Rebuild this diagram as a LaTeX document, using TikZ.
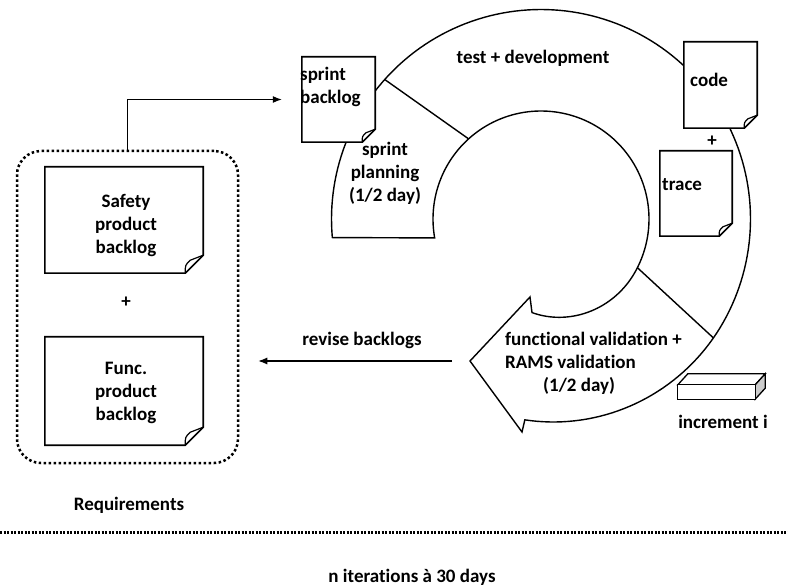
\documentclass[tikz,border=0pt]{standalone}
\usepackage{fontspec}
\setmainfont{Carlito}[Ligatures={NoCommon}]
\usetikzlibrary{arrows.meta,calc}
\newcommand{\drawdoc}[2]{%
  \draw[docline] (#1.north west) -- (#1.north east) -- ([yshift=#2pt]#1.south east) -- ([xshift=-#2pt]#1.south east) -- (#1.south west) -- cycle;
  \draw[foldline] ([xshift=-#2pt]#1.south east) .. controls ([xshift=-#2pt, yshift=0.45*#2pt]#1.south east) .. ([xshift=-0.72*#2pt, yshift=0.72*#2pt]#1.south east) -- ([yshift=#2pt]#1.south east);
}
\begin{document}
\begin{tikzpicture}[x=1pt,y=-1pt,
  declare function={ri(\a)=108-14*(max(0,\a-390)/65.5)^2; ro(\a)=209.5-8*(max(0,\a-390)/64.6)^2;},
  txt/.style={font=\fontsize{19}{23}\selectfont\bfseries, inner sep=0pt, align=center},
  ringline/.style={line width=1.4pt, line join=miter},
  docline/.style={line width=1.6pt, fill=white, line join=miter},
  foldline/.style={line width=1.2pt, line join=round},
  docnode/.style={inner sep=0pt},
  arr/.style={line width=1.2pt, -{Latex[length=9pt,width=7pt]}},
  reqstyle/.style={draw, line width=2.5pt, dash pattern=on 2.5pt off 2.5pt, rounded corners=24pt, inner sep=0pt, minimum width=221pt, minimum height=312pt},
  boxline/.style={line width=1.3pt, line join=miter},
]
\useasboundingbox (0,0) rectangle (788,588);

% ---- circular arrow ----
\coordinate (rtip) at (470,361);
\coordinate (ibarb) at (530,297);
\coordinate (obarb) at (522,432);
\draw[ringline] plot[domain=169.9:455.5, samples=160, variable=\t] ({541+ri(\t)*cos(\t)},{219+ri(\t)*sin(\t)})
  -- (ibarb) -- (rtip) -- (obarb)
  -- plot[domain=0:1, samples=160, variable=\s] ({541+ro(454.6-279.8*\s)*cos(454.6-279.8*\s)},{219+ro(454.6-279.8*\s)*sin(454.6-279.8*\s)})
  -- cycle;
\coordinate (d1o) at ({541+209.5*cos(221.75)},{219+209.5*sin(221.75)});
\coordinate (d1i) at ({541+108*cos(227.9)},{219+108*sin(227.9)});
\coordinate (d2i) at ({541+108*cos(26.8)},{219+108*sin(26.8)});
\coordinate (d2o) at ({541+209.5*cos(34.6)},{219+209.5*sin(34.6)});
\draw[ringline] (d1o) -- (d1i);
\draw[ringline] (d2i) -- (d2o);

% ---- documents ----
\node[docnode, minimum width=73pt, minimum height=85pt] (sprint) at (338.5,99.5) {};
\drawdoc{sprint}{13}
\node[docnode, minimum width=73pt, minimum height=86pt] (code) at (720.5,85) {};
\drawdoc{code}{13}
\node[docnode, minimum width=72pt, minimum height=85pt] (trace) at (696,193.5) {};
\drawdoc{trace}{13}
\node[docnode, minimum width=158pt, minimum height=106pt] (safety) at (124,220) {};
\drawdoc{safety}{18}
\node[docnode, minimum width=158pt, minimum height=108pt] (func) at (124,391) {};
\drawdoc{func}{18}

% ---- requirements box ----
\node[reqstyle] (reqbox) at (127.5,307) {};

% ---- increment box ----
\node[docnode, minimum width=77pt, minimum height=14pt] (incr) at (716.5,392) {};
\draw[boxline, fill=white] (incr.north west) -- ([shift={(10pt,11pt)}]incr.north west) -- ([shift={(10pt,11pt)}]incr.north east) -- (incr.north east) -- cycle;
\draw[boxline, fill=gray!40] (incr.north east) -- ([shift={(10pt,11pt)}]incr.north east) -- ([shift={(10pt,11pt)}]incr.south east) -- (incr.south east) -- cycle;
\draw[boxline, fill=white] (incr.south west) rectangle (incr.north east);

% ---- connectors ----
\draw[arr, shorten >=20pt] (reqbox.north) |- (sprint.west);
\draw[arr, shorten <=18pt, shorten >=19pt] (rtip) -- (rtip -| reqbox.east);

% ---- separator ----
\draw[line width=3pt, dash pattern=on 2pt off 1.5pt] (0,532) -- (788,532);

% ---- texts ----
\node[txt] (tdev) at (533,58) {test + development};
\node[txt] (splan) at (385,173) {sprint\\planning\\(1/2 day)};
\node[txt, align=left, anchor=west] (sbl) at (300,86.5) {sprint\\backlog};
\node[txt, anchor=west] (codet) at (690,80) {code};
\node[txt] (plus1) at (712,141) {+};
\node[txt, anchor=west] (tracet) at (662,185) {trace};
\node[txt] (safetyt) at (126,226) {Safety\\product\\backlog};
\node[txt] (plus2) at (126,302) {+};
\node[txt] (funct) at (126,393) {Func.\\product\\backlog};
\node[txt] (revise) at (362,340) {revise backlogs};
\node[txt, align=left, anchor=west] (valid) at (505,363) {functional validation +\\RAMS validation\\\hspace*{38pt}(1/2 day)};
\node[txt] (incrt) at (723,422) {increment i};
\node[txt] (reqt) at (129,505) {Requirements};
\node[txt] (iter) at (412,577) {n iterations à 30 days};
\end{tikzpicture}
\end{document}
